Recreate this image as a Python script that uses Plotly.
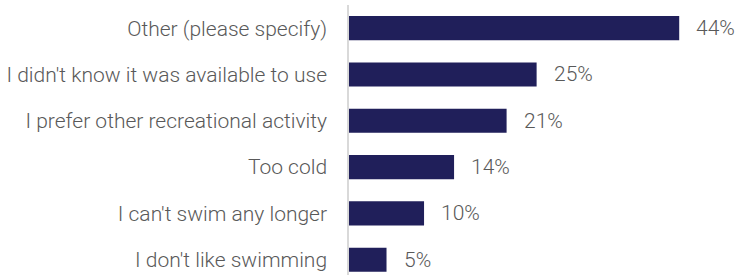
import plotly.graph_objects as go

categories = [
    "Other (please specify)",
    "I didn't know it was available to use",
    "I prefer other recreational activity",
    "Too cold",
    "I can't swim any longer",
    "I don't like swimming",
]
values = [44, 25, 21, 14, 10, 5]
labels = ["44%", "25%", "21%", "14%", "10%", "5%"]

BAR = "#201f5a"
TXT = "#595959"
FONT = "Roboto"
FS = 21

fig = go.Figure(go.Bar(
    x=values, y=categories, orientation="h",
    marker=dict(color=BAR, line=dict(width=0)),
    width=0.52,
    hoverinfo="skip",
))

for v, c, t in zip(values, categories, labels):
    fig.add_annotation(x=v, y=c, text=t, showarrow=False, xanchor="left",
                       xshift=15, font=dict(family=FONT, size=FS, color=TXT, weight=300))

fig.update_layout(
    width=740, height=275,
    margin=dict(l=349, r=0, t=5, b=0),
    paper_bgcolor="white", plot_bgcolor="white",
    showlegend=False,
    xaxis=dict(range=[0, 52.1], visible=False),
    yaxis=dict(
        categoryorder="array", categoryarray=categories,
        range=[5.33, -0.5], autorange=False,
        showline=True, linecolor="#d9d9d9", linewidth=1.5,
        showgrid=False, zeroline=False, ticks="",
        ticklabelstandoff=16,
        tickfont=dict(family=FONT, size=FS, color=TXT, weight=300),
    ),
)

fig.write_html("out.html", config={"displayModeBar": False},
               post_script="document.body.style.margin='0';")
